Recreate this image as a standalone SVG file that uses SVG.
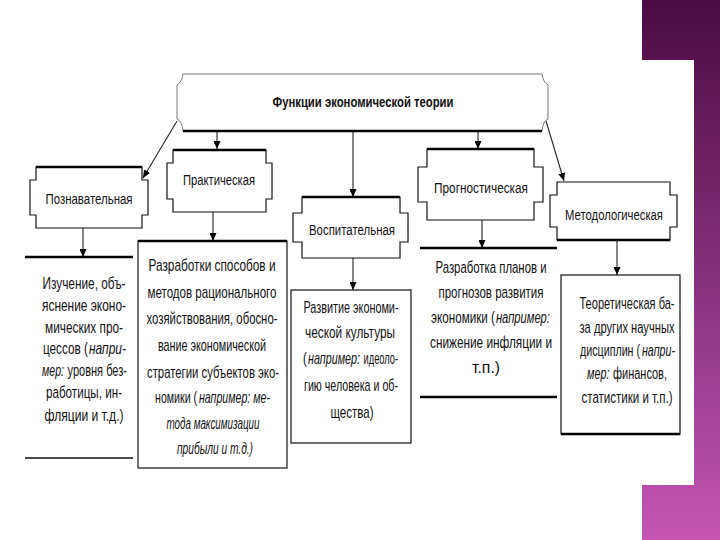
<svg xmlns="http://www.w3.org/2000/svg" width="720" height="540" viewBox="0 0 720 540">
<defs>
<linearGradient id="pg" x1="0" y1="0" x2="0" y2="1">
<stop offset="0" stop-color="#4c0a44"/>
<stop offset="0.5" stop-color="#84307a"/>
<stop offset="1" stop-color="#c455b5"/>
</linearGradient>
<marker id="arr" markerUnits="userSpaceOnUse" markerWidth="8" markerHeight="7" refX="8" refY="3.5" orient="auto">
<path d="M0,0 L8,3.5 L0,7 z" fill="#000"/>
</marker>
<style>
text { font-family: "Liberation Sans", Arial, sans-serif; fill: #111; text-anchor: middle; }
.s { text-anchor: start; }
.hdr { font-size: 15px; }
.ttl { font-size: 15px; font-weight: bold; }
.body { font-size: 16px; }
.i { font-style: italic; }
.box { fill: none; stroke: #111; stroke-width: 1.2; }
.thin { fill: none; stroke: #777; stroke-width: 1; }
.thick { fill: none; stroke: #000; stroke-width: 2.5; }
.conn line { stroke: #222; stroke-width: 1.1; marker-end: url(#arr); }
</style>
</defs>
<rect x="0" y="0" width="720" height="540" fill="#fff"/>
<rect x="642" y="0" width="78" height="540" fill="url(#pg)"/>
<rect x="0" y="60" width="694" height="425" fill="#fff"/>

<g id="connectors" class="conn">
<line x1="177" y1="121" x2="143" y2="178"/>
<line x1="546" y1="121" x2="564" y2="181"/>
<line x1="217" y1="131" x2="217" y2="149"/>
<line x1="353" y1="131" x2="353" y2="197"/>
<line x1="478" y1="131" x2="478" y2="149"/>
<line x1="83" y1="228" x2="83" y2="257"/>
<line x1="213" y1="212" x2="213" y2="241"/>
<line x1="353" y1="258" x2="353" y2="290"/>
<line x1="482" y1="220" x2="482" y2="248"/>
<line x1="617" y1="240" x2="617" y2="275"/>
</g>

<g id="title">
<path class="thin" d="M183,74 H542 Q543,82 548,85 V119 Q543,121 542,131 H183 Q182,121 177,119 V85 Q182,82 183,74 Z"/>
<path class="thick" d="M183,131 H542"/>
<text class="ttl" transform="translate(363,0) scale(0.8,1)" x="0" y="107" textLength="226.3" lengthAdjust="spacingAndGlyphs">Функции экономической теории</text>
</g>

<g id="poznavatelnaya">
<path class="box" d="M36,167 H142 V180 H148 V215 H142 V228 H36 V215 H30 V180 H36 Z"/>
<path class="thick" d="M36,167 H142"/>
<text class="hdr" transform="translate(89,0) scale(0.76,1)" x="0" y="204" textLength="114.5" lengthAdjust="spacingAndGlyphs">Познавательная</text>
</g>

<g id="prakticheskaya">
<path class="box" d="M173,150 H266 V163 H272 V199 H266 V212 H173 V199 H167 V163 H173 Z"/>
<path class="thick" d="M173,150 H266"/>
<text class="hdr" transform="translate(219,0) scale(0.76,1)" x="0" y="185" textLength="94.7" lengthAdjust="spacingAndGlyphs">Практическая</text>
</g>

<g id="vospitatelnaya">
<path class="box" d="M302,197 H400 V213 H408 V242 H400 V258 H302 V242 H293 V213 H302 Z"/>
<path class="thick" d="M302,197 H400"/>
<text class="hdr" transform="translate(352,0) scale(0.76,1)" x="0" y="235" textLength="113.2" lengthAdjust="spacingAndGlyphs">Воспитательная</text>
</g>

<g id="prognosticheskaya">
<path class="box" d="M427,149 H534 V167 H543 V202 H534 V220 H427 V202 H418 V167 H427 Z"/>
<path class="thick" d="M427,149 H534"/>
<text class="hdr" transform="translate(481,0) scale(0.76,1)" x="0" y="193" textLength="123.7" lengthAdjust="spacingAndGlyphs">Прогностическая</text>
</g>

<g id="metodologicheskaya">
<path class="box" d="M557,182 H670 V195 H677 V227 H670 V240 H557 V227 H550 V195 H557 Z"/>
<path class="thick" d="M557,240 H670"/>
<text class="hdr" transform="translate(614,0) scale(0.76,1)" x="0" y="220" textLength="128.9" lengthAdjust="spacingAndGlyphs">Методологическая</text>
</g>

<g id="izuchenie">
<path class="thick" d="M25,257 H133"/>
<path class="box" d="M25,458 H133" style="stroke-width:1.6"/>
<g transform="translate(84,0) scale(0.7,1)">
<text class="body" x="0" y="289" textLength="118.6" lengthAdjust="spacingAndGlyphs">Изучение, объ-</text>
<text class="body" x="0" y="311" textLength="120" lengthAdjust="spacingAndGlyphs">яснение эконо-</text>
<text class="body" x="0" y="333" textLength="111.4" lengthAdjust="spacingAndGlyphs">мических про-</text>
<text class="body s" x="-58.6" y="354" textLength="64.3" lengthAdjust="spacingAndGlyphs">цессов (</text>
<text class="body s i" x="7.1" y="354" textLength="52.9" lengthAdjust="spacingAndGlyphs">напри-</text>
<text class="body s i" x="-60" y="376" textLength="31.4" lengthAdjust="spacingAndGlyphs">мер:</text>
<text class="body s" x="-23.6" y="376" textLength="85" lengthAdjust="spacingAndGlyphs">уровня без-</text>
<text class="body" x="0" y="398" textLength="108.6" lengthAdjust="spacingAndGlyphs">работицы, ин-</text>
<text class="body" x="0" y="421" textLength="112.9" lengthAdjust="spacingAndGlyphs">фляции и т.д.)</text>
</g>
</g>

<g id="razrabotki">
<rect class="box" x="138" y="241" width="149" height="227"/>
<path class="thick" d="M138,241 H287"/>
<g transform="translate(212,0) scale(0.7,1)">
<text class="body" x="0" y="271" textLength="181.4" lengthAdjust="spacingAndGlyphs">Разработки способов и</text>
<text class="body" x="0" y="298" textLength="184.3" lengthAdjust="spacingAndGlyphs">методов рационального</text>
<text class="body" x="0" y="324" textLength="187.1" lengthAdjust="spacingAndGlyphs">хозяйствования, обосно-</text>
<text class="body" x="0" y="351" textLength="154.3" lengthAdjust="spacingAndGlyphs">вание экономической</text>
<text class="body" x="1.4" y="378" textLength="188.6" lengthAdjust="spacingAndGlyphs">стратегии субъектов эко-</text>
<text class="body s" x="-81.4" y="403" textLength="60" lengthAdjust="spacingAndGlyphs">номики (</text>
<text class="body s i" x="-18.6" y="403" textLength="101.4" lengthAdjust="spacingAndGlyphs">например: ме-</text>
<text class="body i" x="1.4" y="429" textLength="132.9" lengthAdjust="spacingAndGlyphs">тода максимизации</text>
<text class="body i" x="4.3" y="454" textLength="108.6" lengthAdjust="spacingAndGlyphs">прибыли и т.д.)</text>
</g>
</g>

<g id="razvitie">
<rect class="box" x="291" y="290" width="120" height="153"/>
<g transform="translate(351,0) scale(0.7,1)">
<text class="body" x="0" y="313" textLength="135.7" lengthAdjust="spacingAndGlyphs">Развитие экономи-</text>
<text class="body" x="-1.4" y="338" textLength="128.6" lengthAdjust="spacingAndGlyphs">ческой культуры</text>
<text class="body s" x="-68.6" y="364">(</text>
<text class="body s i" x="-61.4" y="364" textLength="74.3" lengthAdjust="spacingAndGlyphs">например:</text>
<text class="body s" x="17.9" y="364" textLength="49.3" lengthAdjust="spacingAndGlyphs">идеоло-</text>
<text class="body" x="0" y="391" textLength="134.3" lengthAdjust="spacingAndGlyphs">гию человека и об-</text>
<text class="body" x="1.4" y="418" textLength="61.4" lengthAdjust="spacingAndGlyphs">щества)</text>
</g>
</g>

<g id="razrabotka-planov">
<path class="thick" d="M420,248 H557"/>
<path class="thick" d="M420,397 H557"/>
<g transform="translate(491,0) scale(0.7,1)">
<text class="body" x="0" y="273" textLength="158.6" lengthAdjust="spacingAndGlyphs">Разработка планов и</text>
<text class="body" x="0" y="298" textLength="150" lengthAdjust="spacingAndGlyphs">прогнозов развития</text>
<text class="body s" x="-85.7" y="323" textLength="91.4" lengthAdjust="spacingAndGlyphs">экономики  (</text>
<text class="body s i" x="7.1" y="323" textLength="77.1" lengthAdjust="spacingAndGlyphs">например:</text>
<text class="body" x="0" y="348" textLength="174.3" lengthAdjust="spacingAndGlyphs">снижение инфляции и</text>
<text class="body" x="-7.1" y="373" textLength="40" lengthAdjust="spacingAndGlyphs">т.п.)</text>
</g>
</g>

<g id="teoreticheskaya">
<rect class="box" x="561" y="275" width="119" height="159"/>
<path class="thick" d="M561,434 H680"/>
<g transform="translate(627,0) scale(0.7,1)">
<text class="body" x="0" y="309" textLength="135.7" lengthAdjust="spacingAndGlyphs">Теоретическая ба-</text>
<text class="body" x="0" y="333" textLength="135.7" lengthAdjust="spacingAndGlyphs">за других научных</text>
<text class="body s" x="-67.1" y="356" textLength="85.7" lengthAdjust="spacingAndGlyphs">дисциплин (</text>
<text class="body s i" x="21.4" y="356" textLength="47.1" lengthAdjust="spacingAndGlyphs">напри-</text>
<text class="body s i" x="-57.1" y="379" textLength="32.1" lengthAdjust="spacingAndGlyphs">мер:</text>
<text class="body s" x="-20" y="379" textLength="77.1" lengthAdjust="spacingAndGlyphs">финансов,</text>
<text class="body" x="0" y="403" textLength="130" lengthAdjust="spacingAndGlyphs">статистики и т.п.)</text>
</g>
</g>
</svg>
